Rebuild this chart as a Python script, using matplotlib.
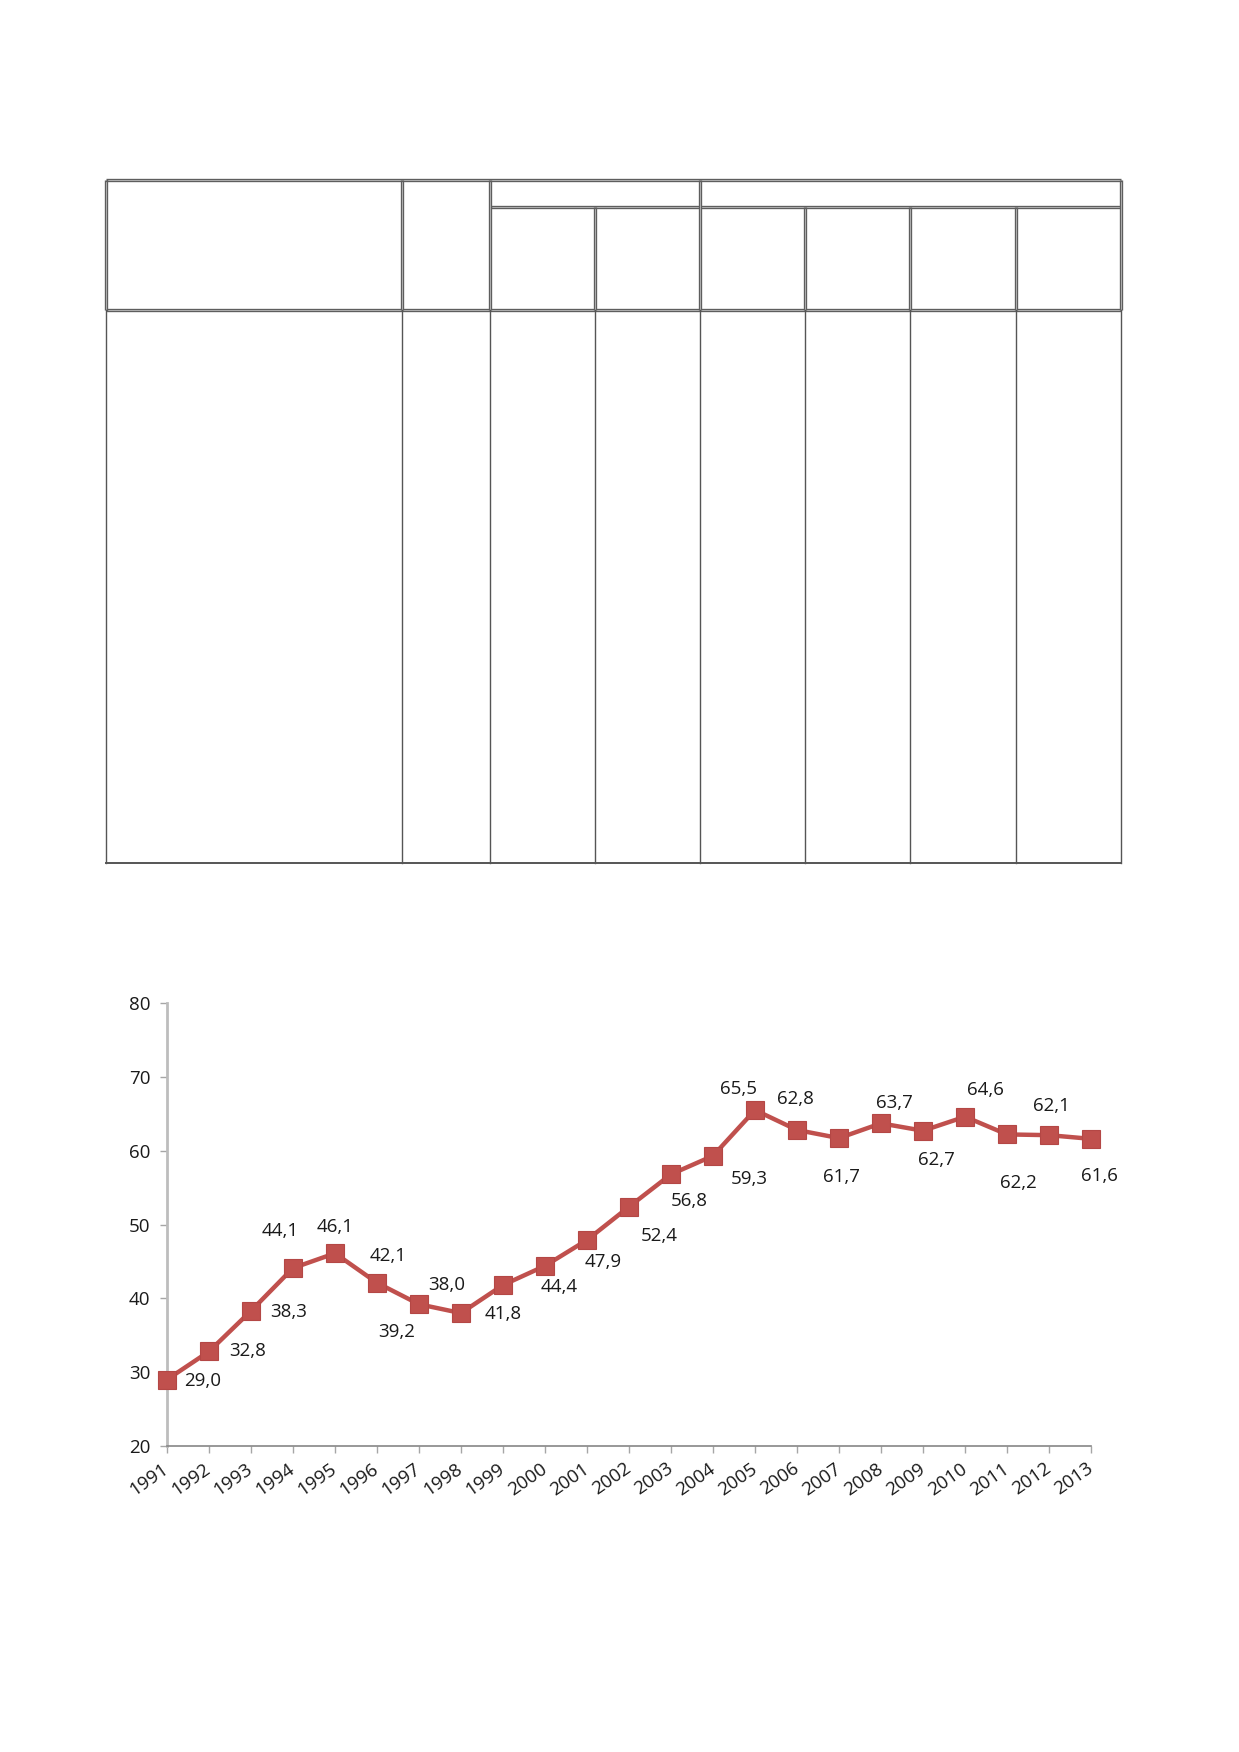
import matplotlib
matplotlib.use('Agg')
import matplotlib.pyplot as plt

# data
years = list(range(1991, 2014))
values = [29.0, 32.8, 38.3, 44.1, 46.1, 42.1, 39.2, 38.0, 41.8, 44.4, 47.9, 52.4,
          56.8, 59.3, 65.5, 62.8, 61.7, 63.7, 62.7, 64.6, 62.2, 62.1, 61.6]
yticks = [20, 30, 40, 50, 60, 70, 80]

# where each data label sits relative to its point (points)
label_offsets = [(26, -1), (28, 0), (27, -1), (-9, 27), (0, 19), (8, 19), (-16, -20),
                 (-10, 20), (0, -21), (10, -15), (12, -16), (22, -21), (13, -19),
                 (26, -17), (-12, 15), (-1, 22), (2, -28), (10, 15), (10, -21),
                 (15, 19), (8, -35), (2, 21), (6, -27)]

W, H = 1239, 1752
RED = '#C0504D'
GRAY = '#868686'
plt.rcParams['font.family'] = ['Open Sans', 'DejaVu Sans']

fig = plt.figure(figsize=(W / 100, H / 100), dpi=100)

# empty table on top of the page, drawn in pixel coords
tab = fig.add_axes([0, 0, 1, 1])
tab.set_xlim(0, W)
tab.set_ylim(H, 0)
tab.axis('off')

xs = [106, 402, 490, 595, 700, 805, 910, 1016, 1121]
top, sub, hbot, bot = 180, 207, 310, 863

def hline(x0, x1, y, double=True):
    tab.plot([x0, x1], [y, y], color='#5e5e5e', lw=2.4, solid_capstyle='butt')
    if double:
        tab.plot([x0 + 1.5, x1 - 1.5], [y, y], color='#cfcfcf', lw=0.5)

def vline(x, y0, y1, double=True):
    tab.plot([x, x], [y0, y1], color='#5e5e5e', lw=2.4, solid_capstyle='butt')
    if double:
        tab.plot([x, x], [y0 + 1.5, y1 - 1.5], color='#cfcfcf', lw=0.5)

# header block
hline(xs[0], xs[-1], top)
hline(xs[2], xs[-1], sub)
hline(xs[0], xs[-1], hbot)
for x in xs:
    if x in (xs[0], xs[1], xs[2], xs[4], xs[-1]):
        vline(x, top, hbot)
    else:
        vline(x, sub, hbot)

# body: single thin lines
for x in xs:
    tab.plot([x, x], [hbot, bot], color='#555555', lw=1.0)
tab.plot([xs[0], xs[-1]], [bot, bot], color='#555555', lw=1.4)

# line chart
l, r, t, b = 167, 1091, 1003, 1446
ax = fig.add_axes([l / W, 1 - b / H, (r - l) / W, (b - t) / H])
ax.plot(years, values, color=RED, lw=3.2, marker='s', markersize=12.5,
        markerfacecolor=RED, markeredgecolor='#b44745', markeredgewidth=0.8,
        clip_on=False, zorder=3)
for x, v, (dx, dy) in zip(years, values, label_offsets):
    ax.annotate(f'{v:.1f}'.replace('.', ','), (x, v), xytext=(dx, dy),
                textcoords='offset points', ha='center', va='center',
                fontsize=13.5, color='#1a1a1a')

ax.set_xlim(years[0], years[-1])
ax.set_ylim(yticks[0], yticks[-1])
ax.set_yticks(yticks)
ax.set_xticks(years)
ax.set_xticklabels([str(y) for y in years], rotation=35, ha='right',
                   va='center', rotation_mode='anchor')
for s in ('top', 'right'):
    ax.spines[s].set_visible(False)
ax.spines['left'].set_color('#bdbdbd')
ax.spines['left'].set_linewidth(2)
ax.spines['bottom'].set_color(GRAY)
ax.spines['bottom'].set_linewidth(1.2)
ax.tick_params(axis='both', direction='out', length=5, width=1, color='#a6a6a6',
               labelsize=13.5, labelcolor='#1a1a1a')
ax.tick_params(axis='x', pad=10)
ax.tick_params(axis='y', pad=7)

plt.savefig('out.png', dpi=100)
